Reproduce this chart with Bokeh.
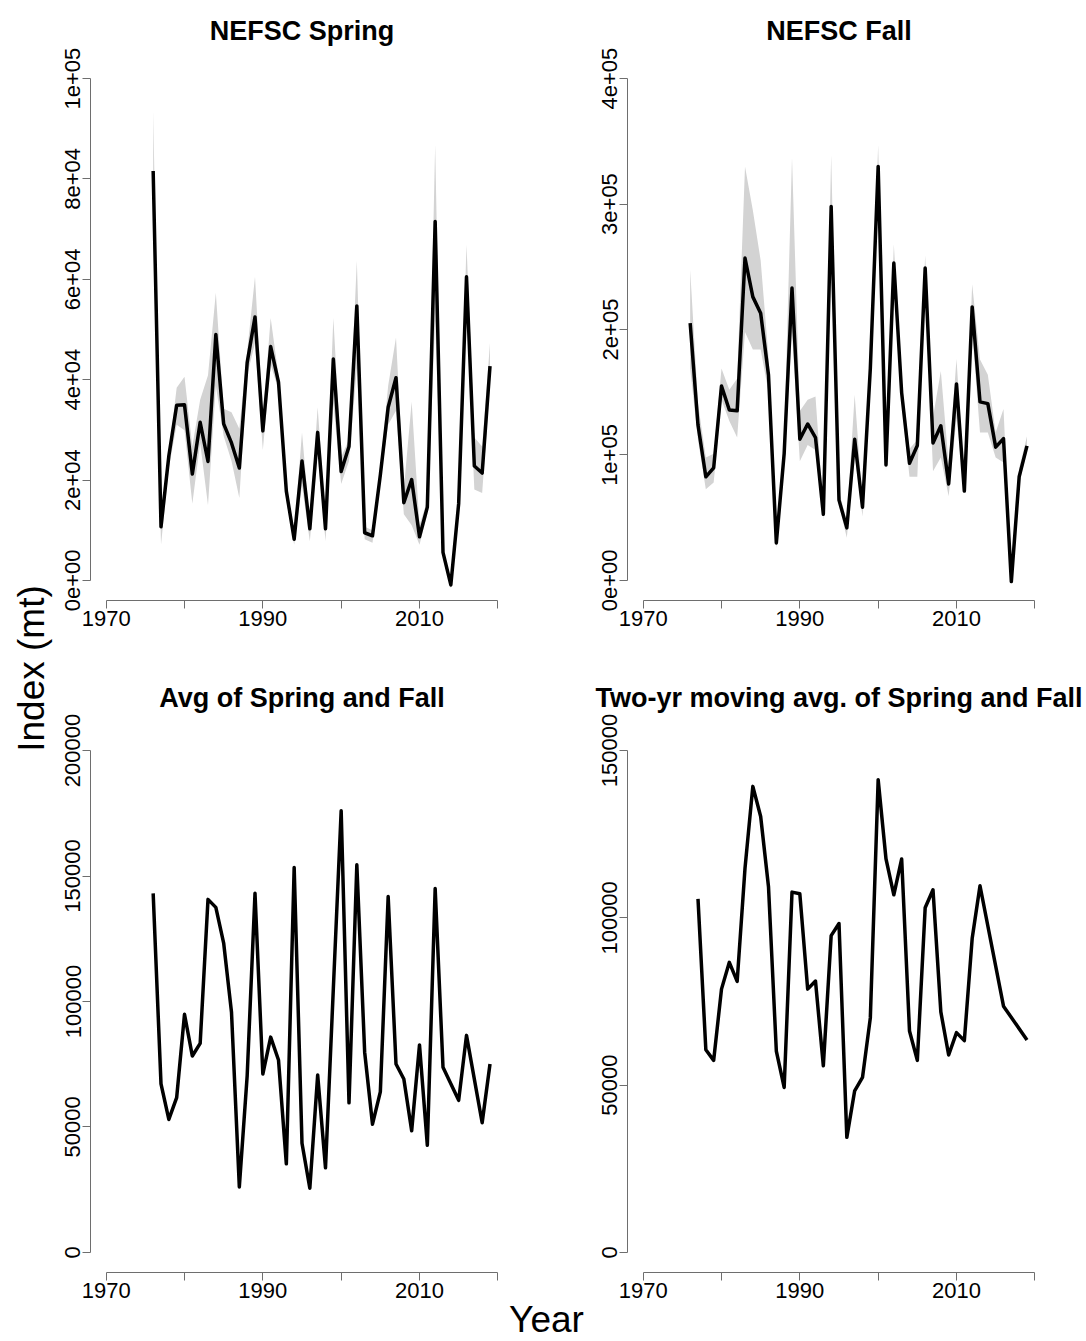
from bokeh.plotting import figure
from bokeh.layouts import row, column
from bokeh.models import FixedTicker, Range1d, Label
from bokeh.embed import file_html
from bokeh.resources import INLINE

FONT = "Liberation Sans"

# ---------------- data ----------------
years = list(range(1976, 2020))

spring_k = [81.6, 10.7, 24.8, 34.9, 35.0, 21.2, 31.5, 23.7, 49.0, 31.2,
            27.4, 22.4, 43.4, 52.5, 29.8, 46.6, 39.5, 17.8, 8.2, 23.8,
            10.3, 29.5, 10.3, 44.1, 21.7, 26.7, 54.7, 9.5, 8.9, 21.0,
            34.5, 40.4, 15.5, 20.1, 8.7, 14.6, 71.5, 5.6, -0.9, 15.3,
            60.5, 22.8, 21.4, 42.7]
spring_hi_k = [93.6, 12.5, 25.3, 38.4, 40.6, 26.7, 36.0, 40.9, 57.3, 34.2,
               33.5, 30.2, 45.6, 60.5, 32.4, 52.3, 40.9, 19.2, 9.6, 29.5,
               11.7, 34.5, 12.5, 52.3, 24.6, 28.1, 63.7, 10.7, 10.0, 22.4,
               38.8, 48.4, 18.1, 35.6, 11.0, 16.0, 86.8, 6.4, 0.0, 16.4,
               66.9, 28.5, 26.7, 47.3]
spring_lo_k = [69.4, 7.1, 22.4, 31.0, 29.9, 15.3, 27.4, 15.0, 38.8, 28.8,
               23.8, 16.4, 40.9, 47.3, 26.0, 43.0, 38.0, 16.0, 7.1, 18.9,
               7.8, 25.3, 7.8, 35.2, 19.2, 23.8, 42.3, 8.2, 7.5, 19.6,
               31.0, 33.8, 13.2, 11.0, 7.1, 13.2, 51.6, 5.0, -1.6, 13.9,
               53.7, 18.1, 17.4, 39.1]

fall_k = [205.0, 123.8, 82.6, 89.7, 155.0, 135.8, 135.2, 257.0, 226.0, 213.0,
          163.7, 29.9, 101.0, 233.0, 112.5, 124.7, 113.9, 52.7, 298.0, 64.0,
          41.9, 112.5, 58.4, 169.0, 330.0, 92.0, 253.0, 149.5, 93.4, 107.6,
          249.0, 109.6, 123.3, 76.9, 156.6, 71.2, 218.0, 142.3, 140.9, 106.2,
          113.0, -0.9, 82.6, 107.3]
fall_hi_k = [247.7, 141.0, 98.0, 101.0, 169.0, 152.0, 161.0, 330.0, 295.0, 255.0,
             178.0, 35.6, 112.0, 337.0, 135.0, 144.0, 146.6, 57.0, 339.0, 71.0,
             47.0, 148.0, 63.0, 181.0, 347.0, 98.0, 268.0, 158.0, 105.0, 112.0,
             259.0, 130.0, 167.0, 92.5, 176.5, 78.0, 236.0, 176.0, 164.0, 118.0,
             136.7, 4.0, 89.7, 115.0]
fall_lo_k = [169.0, 112.0, 72.6, 78.0, 144.0, 127.0, 114.0, 198.0, 184.0, 184.0,
             150.0, 25.6, 90.0, 198.0, 95.0, 108.0, 104.0, 48.0, 255.0, 60.0,
             34.0, 101.0, 51.0, 158.0, 315.0, 87.0, 238.0, 141.0, 82.6, 82.6,
             238.0, 87.0, 98.0, 67.0, 129.5, 70.0, 198.0, 118.0, 118.0, 98.0,
             94.0, -3.0, 77.0, 104.0]

avg_years = [1976, 1977, 1978, 1979, 1980, 1981, 1982, 1983, 1984, 1985,
             1986, 1987, 1988, 1989, 1990, 1991, 1992, 1993, 1994, 1995,
             1996, 1997, 1998, 1999, 2000, 2001, 2002, 2003, 2004, 2005,
             2006, 2007, 2008, 2009, 2010, 2011, 2012, 2013, 2014, 2015,
             2016, 2018, 2019]
avg_k = [143.1, 67.2, 53.0, 61.7, 94.9, 78.3, 83.3, 140.7, 137.5, 123.3,
         95.7, 26.1, 70.4, 143.1, 71.1, 85.8, 76.7, 35.3, 153.4, 43.5,
         25.6, 70.7, 33.7, 105.1, 176.0, 59.6, 154.5, 79.8, 51.1, 64.0,
         141.8, 75.1, 69.1, 48.5, 82.7, 42.7, 145.0, 73.8, 67.2, 60.6,
         86.5, 51.7, 75.1]

ma_years = [1977, 1978, 1979, 1980, 1981, 1982, 1983, 1984, 1985, 1986,
            1987, 1988, 1989, 1990, 1991, 1992, 1993, 1994, 1995, 1996,
            1997, 1998, 1999, 2000, 2001, 2002, 2003, 2004, 2005, 2006,
            2007, 2008, 2009, 2010, 2011, 2012, 2013, 2016, 2019]
ma_k = [105.7, 60.6, 57.4, 78.7, 86.7, 81.0, 114.8, 139.3, 130.3, 109.3,
        60.2, 49.3, 107.7, 107.2, 78.7, 81.1, 55.8, 94.7, 98.3, 34.4,
        48.3, 52.3, 70.1, 141.3, 117.6, 106.9, 117.6, 66.2, 57.4, 103.0,
        108.4, 71.9, 59.0, 65.7, 63.3, 93.8, 109.6, 73.6, 63.5]

x_ticks = [1970, 1980, 1990, 2000, 2010, 2020]
x_hidden = {1980: "", 2000: "", 2020: ""}

spring_ticks = [0, 20000, 40000, 60000, 80000, 100000]
spring_labels = ["0e+00", "2e+04", "4e+04", "6e+04", "8e+04", "1e+05"]
fall_ticks = [0, 100000, 200000, 300000, 400000]
fall_labels = ["0e+00", "1e+05", "2e+05", "3e+05", "4e+05"]
avg_ticks = [0, 50000, 100000, 150000, 200000]
avg_labels = ["0", "50000", "100000", "150000", "200000"]
ma_ticks = [0, 50000, 100000, 150000]
ma_labels = ["0", "50000", "100000", "150000"]


def k(vals):
    return [v * 1000 for v in vals]


# ---------------- styling helpers ----------------
AXIS_COLOR = "#6e6e6e"
TICK_FS = "22px"
PAD = 0.04
FRAME_W = 423
FRAME_H = 542


def panel(title, ymax, yticks, ylabels, bl, br, bt, bb, standoff, valign):
    p = figure(width=bl + FRAME_W + br, height=bt + FRAME_H + bb,
               output_backend="svg", toolbar_location=None,
               x_range=Range1d(1970 - PAD * 50, 2020 + PAD * 50),
               y_range=Range1d(-PAD * ymax, ymax * (1 + PAD)),
               min_border_left=bl, min_border_right=br,
               min_border_top=bt, min_border_bottom=bb)
    p.title.text = title
    p.title.align = "center"
    p.title.vertical_align = valign
    p.title.text_baseline = valign
    p.title.text_font = FONT
    p.title.text_font_size = "27px"
    p.title.text_font_style = "bold"
    p.title.text_color = "black"
    p.title.standoff = standoff
    p.outline_line_color = None
    p.grid.visible = False
    p.background_fill_color = "white"
    p.border_fill_color = "white"
    for ax in (p.xaxis[0], p.yaxis[0]):
        ax.axis_line_color = AXIS_COLOR
        ax.axis_line_width = 1
        ax.major_tick_line_color = AXIS_COLOR
        ax.major_tick_in = 0
        ax.major_tick_out = 8
        ax.minor_tick_line_color = None
        ax.major_label_text_font = FONT
        ax.major_label_text_font_size = TICK_FS
        ax.major_label_text_color = "black"
    p.xaxis.ticker = FixedTicker(ticks=x_ticks)
    p.xaxis.major_label_overrides = x_hidden
    p.xaxis.bounds = (1970, 2020)
    p.xaxis.major_label_standoff = 2
    p.yaxis.ticker = FixedTicker(ticks=yticks)
    p.yaxis.major_label_overrides = {t: l for t, l in zip(yticks, ylabels)}
    p.yaxis.bounds = (0, ymax)
    p.yaxis.major_label_orientation = "vertical"
    p.yaxis.major_label_standoff = 2
    return p


PAGE_W, PAGE_H = 1086, 1341
LEFT_W = 54
TOP_H = 660
BOT_TOP = 70
BOT_BOTTOM = 35
BOT_H = BOT_TOP + FRAME_H + BOT_BOTTOM
XLAB_H = 56
XLAB_OVERLAP = TOP_H + BOT_H + XLAB_H - PAGE_H

p1 = panel("NEFSC Spring", 100000, spring_ticks, spring_labels,
           36, 24, 58, 60, 22, "top")
p1.varea(x=years, y1=k(spring_lo_k), y2=k(spring_hi_k), fill_color="#d3d3d3")
p1.line(x=years, y=k(spring_k), line_color="black", line_width=3.5,
        line_join="round")

p2 = panel("NEFSC Fall", 400000, fall_ticks, fall_labels,
           90, 36, 58, 60, 22, "top")
p2.varea(x=years, y1=k(fall_lo_k), y2=k(fall_hi_k), fill_color="#d3d3d3")
p2.line(x=years, y=k(fall_k), line_color="black", line_width=3.5,
        line_join="round")

p3 = panel("Avg of Spring and Fall", 200000, avg_ticks, avg_labels,
           36, 24, BOT_TOP, BOT_BOTTOM, 34, "middle")
p3.line(x=avg_years, y=k(avg_k), line_color="black", line_width=3.5,
        line_join="round")

p4 = panel("Two-yr moving avg. of Spring and Fall", 150000, ma_ticks, ma_labels,
           90, 36, BOT_TOP, BOT_BOTTOM, 34, "middle")
p4.line(x=ma_years, y=k(ma_k), line_color="black", line_width=3.5,
        line_join="round")

# shared y-axis title in a narrow strip on the left
ylab = figure(width=LEFT_W, height=PAGE_H, output_backend="svg",
              toolbar_location=None, x_axis_type=None, y_axis_type=None,
              x_range=Range1d(0, LEFT_W), y_range=Range1d(PAGE_H, 0),
              min_border=0)
ylab.outline_line_color = None
ylab.grid.visible = False
ylab.add_layout(Label(x=31, y=668, text="Index (mt)", angle=1.5707963,
                      text_align="center", text_baseline="middle",
                      text_font=FONT, text_font_size="37px",
                      text_color="black"))

# shared x-axis title in a transparent strip that slightly overlaps the
# bottom margin of the lower panels
xlab_w = PAGE_W - LEFT_W
xlab = figure(width=xlab_w, height=XLAB_H, output_backend="svg",
              toolbar_location=None, x_axis_type=None, y_axis_type=None,
              x_range=Range1d(LEFT_W, PAGE_W),
              y_range=Range1d(PAGE_H, PAGE_H - XLAB_H),
              min_border=0, margin=(-XLAB_OVERLAP, 0, 0, 0))
xlab.outline_line_color = None
xlab.grid.visible = False
xlab.background_fill_color = None
xlab.border_fill_color = None
xlab.add_layout(Label(x=546, y=1319, text="Year",
                      text_align="center", text_baseline="middle",
                      text_font=FONT, text_font_size="37px",
                      text_color="black"))

layout = row(ylab, column(row(p1, p2), row(p3, p4), xlab))

open("out.html", "w").write(file_html(layout, INLINE))
